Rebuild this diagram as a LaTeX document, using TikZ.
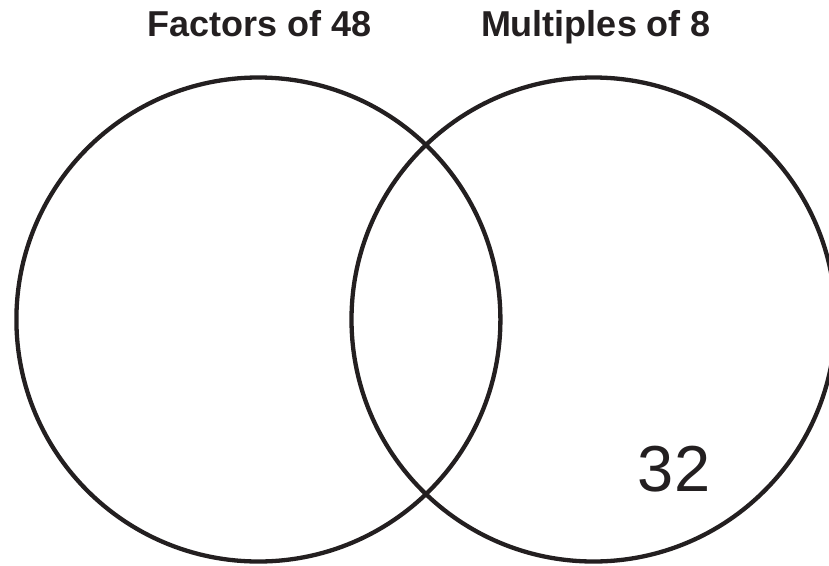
\documentclass[tikz,border=0pt]{standalone}
\usepackage{fontspec}
\setmainfont{Liberation Sans}
\definecolor{ink}{HTML}{231F20}
\begin{document}
\begin{tikzpicture}[x=1pt,y=-1pt,
  ring/.style={draw=ink,line width=4.3pt,circle,minimum size=484pt,inner sep=0pt},
  title/.style={anchor=base,inner sep=0pt,text=ink,font=\fontsize{36}{40}\selectfont\bfseries},
  entry/.style={anchor=base,inner sep=0pt,text=ink,font=\fontsize{65}{70}\selectfont}]
\useasboundingbox (0,0) rectangle (829,565);
\begin{scope}
\clip (0,0) rectangle (829,565);
\node[ring] (left) at (258.4,319.5) {};
\node[ring] (right) at (593.5,319.5) {};
\end{scope}
\node[title] (tl) at (260,36) {Factors of 48};
\node[title] (tr) at (596,36) {Multiples of 8};
\node[entry] (n32) at (674,491) {32};
\end{tikzpicture}
\end{document}
